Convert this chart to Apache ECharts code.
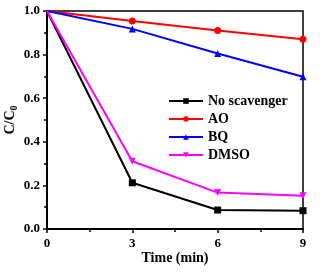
<!DOCTYPE html>
<html>
<head>
<meta charset="UTF-8">
<script src="https://cdn.jsdelivr.net/npm/echarts@6/dist/echarts.min.js"></script>
<style>html,body{margin:0;padding:0;background:#fff}#chart{width:320px;height:276px}</style>
</head>
<body>
<div id="chart"></div>
<script>
var times = [0, 3, 6, 9];
var noScavenger = [1.0, 0.212, 0.087, 0.084];
var ao = [1.0, 0.954, 0.911, 0.870];
var bq = [1.0, 0.918, 0.805, 0.698];
var dmso = [1.0, 0.311, 0.167, 0.153];

var font = '"Liberation Serif", "Times New Roman", serif';

function pts(vals){
	return vals.map(function(v, i){
		var p = {value: [times[i], v]};
		if (i === 0) p.symbolSize = 0;
		return p;
	});
}
function mk(name, vals, color, symbol, rotate){
	return {
		name: name, type: 'line', data: pts(vals),
		symbol: symbol, symbolSize: 7, symbolRotate: rotate || 0,
		lineStyle: {color: color, width: 2}, itemStyle: {color: color},
		clip: false, z: 3
	};
}
var chart = echarts.init(document.getElementById('chart'));
chart.setOption({
	animation: false,
	grid: {left: 47, right: 17, top: 11, bottom: 47, outerBoundsMode: 'none', containLabel: false,
		show: true, borderColor: '#000', borderWidth: 1.5},
	legend: {
		orient: 'vertical', left: 168, top: 94, padding: 0, itemWidth: 34, itemHeight: 7, itemGap: 4,
		textStyle: {fontFamily: font, fontWeight: 'bold', fontSize: 14, color: '#000'},
		data: ['No scavenger', 'AO', 'BQ', 'DMSO']
	},
	xAxis: {
		type: 'value', min: 0, max: 9, interval: 3,
		name: 'Time (min)', nameLocation: 'middle', nameGap: 22, nameMoveOverlap: false,
		nameTextStyle: {fontFamily: font, fontWeight: 'bold', fontSize: 14, color: '#000'},
		axisLine: {lineStyle: {color: '#000', width: 2}},
		axisTick: {length: 4, lineStyle: {color: '#000', width: 1.5}},
		minorTick: {show: true, splitNumber: 2, length: 3, lineStyle: {color: '#000', width: 1.5}},
		axisLabel: {fontFamily: font, fontWeight: 'bold', fontSize: 13, color: '#000', margin: 8},
		splitLine: {show: false}
	},
	yAxis: {
		type: 'value', min: 0, max: 1, interval: 0.2,
		name: '{a|C/C}{b|0}', nameLocation: 'middle', nameGap: 28, nameMoveOverlap: false,
		nameTextStyle: {rich: {
			a: {fontFamily: font, fontWeight: 'bold', fontSize: 14, color: '#000'},
			b: {fontFamily: font, fontWeight: 'bold', fontSize: 10, color: '#000', padding: [7, 0, 0, 0]}
		}},
		axisLine: {lineStyle: {color: '#000', width: 2}},
		axisTick: {length: 4, lineStyle: {color: '#000', width: 1.5}},
		minorTick: {show: true, splitNumber: 2, length: 3, lineStyle: {color: '#000', width: 1.5}},
		axisLabel: {fontFamily: font, fontWeight: 'bold', fontSize: 13, color: '#000', margin: 7,
			formatter: function(v){ return v.toFixed(1); }},
		splitLine: {show: false}
	},
	series: [
		mk('No scavenger', noScavenger, '#000000', 'rect'),
		mk('AO', ao, '#ff0000', 'circle'),
		mk('BQ', bq, '#0000ff', 'triangle'),
		mk('DMSO', dmso, '#ff00ff', 'triangle', 180)
	]
});
</script>
</body>
</html>
